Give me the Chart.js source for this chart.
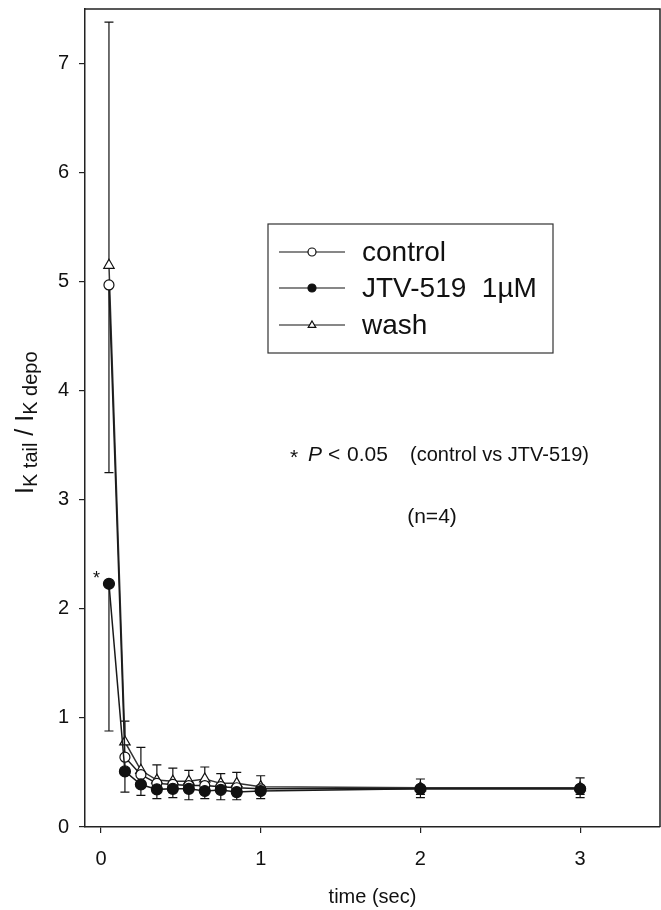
<!DOCTYPE html>
<html>
<head>
<meta charset="utf-8">
<script src="https://cdn.jsdelivr.net/npm/chart.js@4.4.0/dist/chart.umd.min.js"></script>
<style>
  html, body { margin: 0; padding: 0; background: #fff; }
  #wrap { width: 661px; height: 910px; }
</style>
</head>
<body>
<div id="wrap"><canvas id="chart" width="661" height="910"></canvas></div>
<script>
// time points (sec)
const timePoints = [0.05, 0.15, 0.25, 0.35, 0.45, 0.55, 0.65, 0.75, 0.85, 1.0, 2, 3];

// I_K tail / I_K depo, mean and error (one-sided bars as in the figure)
const controlMean = [4.97, 0.64, 0.48, 0.40, 0.39, 0.38, 0.38, 0.37, 0.36, 0.35, 0.35, 0.35];
const controlErr  = [1.72, 0.10, 0.08, 0.06, 0.05, 0.05, 0.05, 0.05, 0.05, 0.05, 0.05, 0.05];
const jtvMean     = [2.23, 0.51, 0.39, 0.345, 0.35, 0.35, 0.33, 0.34, 0.32, 0.33, 0.35, 0.35];
const jtvErr      = [1.35, 0.19, 0.10, 0.085, 0.08, 0.10, 0.07, 0.09, 0.07, 0.07, 0.08, 0.08];
const washMean    = [5.15, 0.78, 0.52, 0.43, 0.42, 0.42, 0.44, 0.40, 0.40, 0.37, 0.36, 0.36];
const washErr     = [2.23, 0.19, 0.21, 0.14, 0.12, 0.10, 0.11, 0.09, 0.10, 0.10, 0.08, 0.09];

const xTicks = [0, 1, 2, 3];
const yTicks = [0, 1, 2, 3, 4, 5, 6, 7];

const seriesLabels = ["control", "JTV-519  1\u00b5M", "wash"];

const FONT = "'Liberation Sans', Arial, Helvetica, sans-serif";

const toPoints = (ys) => ys.map((y, i) => ({ x: timePoints[i], y: y }));

// error bars: dir -1 = lower bar, +1 = upper bar
const errorBars = [
  { mean: jtvMean, err: jtvErr, dir: -1 },
  { mean: controlMean, err: controlErr, dir: -1 },
  { mean: washMean, err: washErr, dir: 1 },
];

const errorBarPlugin = {
  id: "errorBars",
  beforeDatasetsDraw(chart) {
    const { ctx, scales } = chart;
    ctx.save();
    ctx.strokeStyle = "#111";
    ctx.lineWidth = 1.2;
    errorBars.forEach((s) => {
      s.mean.forEach((m, i) => {
        const px = scales.x.getPixelForValue(timePoints[i]);
        const y0 = scales.y.getPixelForValue(m);
        const y1 = scales.y.getPixelForValue(m + s.dir * s.err[i]);
        ctx.beginPath();
        ctx.moveTo(px, y0);
        ctx.lineTo(px, y1);
        ctx.moveTo(px - 4.5, y1);
        ctx.lineTo(px + 4.5, y1);
        ctx.stroke();
      });
    });
    ctx.restore();
  },
};

function drawMarker(ctx, style, x, y, r) {
  ctx.beginPath();
  if (style === "triangle") {
    ctx.moveTo(x, y - r);
    ctx.lineTo(x + r * 0.95, y + r * 0.6);
    ctx.lineTo(x - r * 0.95, y + r * 0.6);
    ctx.closePath();
  } else {
    ctx.arc(x, y, r, 0, Math.PI * 2);
  }
  ctx.fill();
  ctx.stroke();
}

const decorPlugin = {
  id: "decor",
  afterDraw(chart) {
    const { ctx, chartArea } = chart;
    ctx.save();

    // top and right frame
    ctx.strokeStyle = "#222";
    ctx.lineWidth = 1.5;
    ctx.beginPath();
    ctx.moveTo(chartArea.left, chartArea.top);
    ctx.lineTo(chartArea.right, chartArea.top);
    ctx.lineTo(chartArea.right, chartArea.bottom);
    ctx.stroke();

    // legend box
    ctx.lineWidth = 1.2;
    ctx.strokeStyle = "#333";
    ctx.strokeRect(268, 224, 285, 129);
    const rows = [252, 288, 325];
    const styles = [
      { shape: "circle", fill: "#fff" },
      { shape: "circle", fill: "#111" },
      { shape: "triangle", fill: "#fff" },
    ];
    ctx.textBaseline = "middle";
    rows.forEach((y, i) => {
      ctx.strokeStyle = "#111";
      ctx.lineWidth = 1.2;
      ctx.beginPath();
      ctx.moveTo(279, y);
      ctx.lineTo(345, y);
      ctx.stroke();
      ctx.fillStyle = styles[i].fill;
      drawMarker(ctx, styles[i].shape, 312, y, 4);
      ctx.fillStyle = "#111";
      ctx.font = "28px " + FONT;
      ctx.fillText(seriesLabels[i], 362, y + 1);
    });

    // annotation text
    ctx.fillStyle = "#111";
    ctx.textBaseline = "middle";
    ctx.font = "21px " + FONT;
    ctx.fillText("*", 290, 458);
    ctx.font = "italic 21px " + FONT;
    ctx.fillText("P", 308, 455);
    ctx.font = "21px " + FONT;
    ctx.fillText("<", 328, 455);
    ctx.fillText("0.05", 347, 455);
    ctx.font = "20px " + FONT;
    ctx.fillText("(control vs JTV-519)", 410, 455);
    ctx.font = "21px " + FONT;
    ctx.textAlign = "center";
    ctx.fillText("(n=4)", 432, 517);

    // significance star at first JTV point
    ctx.textAlign = "left";
    ctx.font = "18px " + FONT;
    ctx.fillText("*", 93, 579);

    // y axis title with subscripts
    ctx.translate(33, 494);
    ctx.rotate(-Math.PI / 2);
    ctx.textAlign = "left";
    ctx.textBaseline = "alphabetic";
    let cx = 0;
    const part = (txt, size, dy) => {
      ctx.font = size + "px " + FONT;
      ctx.fillText(txt, cx, dy);
      cx += ctx.measureText(txt).width;
    };
    part("I", 25, 0);
    part("K tail", 20, 4);
    part(" / ", 25, 0);
    part("I", 25, 0);
    part("K depo", 20, 4);

    ctx.restore();
  },
};

const lineColor = "#1a1a1a";

new Chart(document.getElementById("chart"), {
  type: "line",
  data: {
    datasets: [
      {
        label: seriesLabels[1],
        data: toPoints(jtvMean),
        borderColor: lineColor,
        borderWidth: 1.5,
        pointStyle: "circle",
        pointRadius: 5.5,
        pointBackgroundColor: "#111",
        pointBorderColor: "#111",
        pointBorderWidth: 1.2,
        tension: 0,
      },
      {
        label: seriesLabels[0],
        data: toPoints(controlMean),
        borderColor: lineColor,
        borderWidth: 1.5,
        pointStyle: "circle",
        pointRadius: 5,
        pointBackgroundColor: "#fff",
        pointBorderColor: "#111",
        pointBorderWidth: 1.2,
        tension: 0,
      },
      {
        label: seriesLabels[2],
        data: toPoints(washMean),
        borderColor: "#333",
        borderWidth: 1.5,
        pointStyle: "triangle",
        pointRadius: 6,
        pointBackgroundColor: "#fff",
        pointBorderColor: "#111",
        pointBorderWidth: 1.2,
        tension: 0,
      },
    ],
  },
  options: {
    responsive: false,
    animation: false,
    events: [],
    layout: { autoPadding: false, padding: { left: 0, top: 9, right: 1, bottom: 0 } },
    plugins: {
      legend: { display: false },
      tooltip: { enabled: false },
    },
    scales: {
      x: {
        type: "linear",
        min: -0.1,
        max: 3.5,
        afterBuildTicks: (scale) => { scale.ticks = xTicks.map((v) => ({ value: v })); },
        afterFit: (scale) => {
          scale.height = 83;
          scale.paddingLeft = 0;
          scale.paddingRight = 0;
        },
        grid: { drawOnChartArea: false, drawTicks: true, tickLength: 6, color: "#222", lineWidth: 1.2 },
        border: { display: true, color: "#222", width: 1.5 },
        ticks: { color: "#111", padding: 14, font: { family: FONT, size: 20 } },
        title: {
          display: true,
          text: "time (sec)",
          color: "#111",
          font: { family: FONT, size: 20 },
          padding: { top: 0, bottom: 1 },
        },
      },
      y: {
        type: "linear",
        min: 0,
        max: 7.5,
        afterBuildTicks: (scale) => { scale.ticks = yTicks.map((v) => ({ value: v })); },
        afterFit: (scale) => {
          scale.width = 85;
          scale.paddingTop = 0;
          scale.paddingBottom = 0;
        },
        grid: { drawOnChartArea: false, drawTicks: true, tickLength: 6, color: "#222", lineWidth: 1.2 },
        border: { display: true, color: "#222", width: 1.5 },
        ticks: { color: "#111", padding: 10, font: { family: FONT, size: 20 } },
      },
    },
  },
  plugins: [errorBarPlugin, decorPlugin],
});
</script>
</body>
</html>
